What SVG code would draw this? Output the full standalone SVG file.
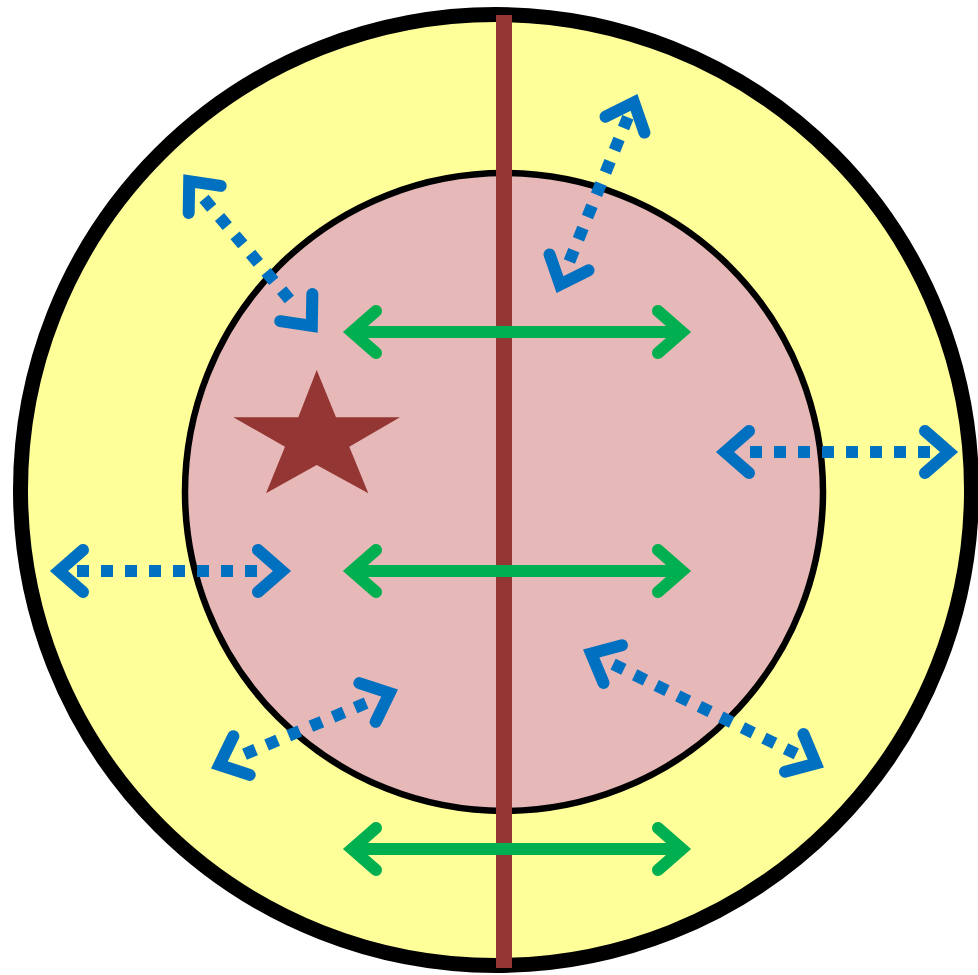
<svg xmlns="http://www.w3.org/2000/svg" width="978" height="975" viewBox="0 0 978 975">
<style>
.green{stroke:#00B050;stroke-width:12;fill:none;marker-start:url(#hg);marker-end:url(#hg)}
.bhead{stroke:none;fill:none;marker-start:url(#hb);marker-end:url(#hb)}
.dots{stroke:#0070C0;stroke-width:12;fill:none;stroke-dasharray:12 12;stroke-linecap:butt}
</style>
<defs>
<marker id="hg" markerUnits="userSpaceOnUse" viewBox="-40 -40 80 80" markerWidth="80" markerHeight="80" refX="0" refY="0" orient="auto-start-reverse" overflow="visible">
<path d="M-24,-21 L0,0 L-24,21" fill="none" stroke="#00B050" stroke-width="12" stroke-linecap="round" stroke-linejoin="miter"/>
</marker>
<marker id="hb" markerUnits="userSpaceOnUse" viewBox="-40 -40 80 80" markerWidth="80" markerHeight="80" refX="0" refY="0" orient="auto-start-reverse" overflow="visible">
<path d="M-24,-21 L0,0 L-24,21" fill="none" stroke="#0070C0" stroke-width="12" stroke-linecap="round" stroke-linejoin="miter"/>
</marker>
</defs>
<rect width="978" height="975" fill="#FFFFFF"/>
<g id="outer-circle"><circle cx="496" cy="490" r="475.5" fill="#FFFF99" stroke="#000000" stroke-width="15"/></g>
<g id="inner-circle"><circle cx="504" cy="492" r="319" fill="#E6B8B7" stroke="#000000" stroke-width="6.5"/></g>
<g id="axis"><line x1="504" y1="15" x2="504" y2="968" stroke="#943634" stroke-width="16"/></g>
<g id="star"><polygon points="316.7,370 336,417.3 400,417.3 349.3,446.7 368.3,493.3 316.7,465 266,493.3 285,446.7 233.3,417.3 298.3,417.3" fill="#943634"/></g>
<g id="connectors">
<path class="green" d="M352,332 L682,332"/>
<path class="green" d="M352,571 L682,571"/>
<path class="green" d="M352,849 L682,849"/>
<path class="bhead" d="M59,571 L282,571"/>
<path class="dots" d="M77,571 L264,571"/>
<path class="bhead" d="M725,452 L949,452"/>
<path class="dots" d="M750,452 L931,452"/>
<path class="bhead" d="M189.2,181.1 L311.8,325.9"/>
<path class="dots" d="M204.0,198.7 L290.0,300.1"/>
<path class="bhead" d="M560.0,284.6 L634.0,102.4"/>
<path class="dots" d="M569.4,261.4 L627.9,117.3"/>
<path class="bhead" d="M219.4,764.9 L389.6,693.1"/>
<path class="dots" d="M244.5,754.3 L367.1,702.6"/>
<path class="bhead" d="M591.2,653.5 L815.8,763.5"/>
<path class="dots" d="M613.1,664.2 L797.0,754.3"/>
</g>
</svg>
